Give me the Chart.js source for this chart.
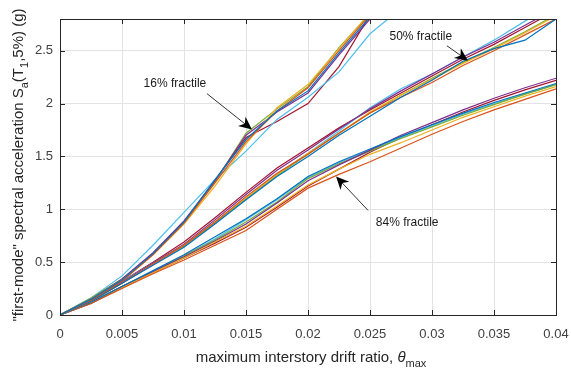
<!DOCTYPE html>
<html>
<head>
<meta charset="utf-8">
<script src="https://cdn.jsdelivr.net/npm/chart.js@4/dist/chart.umd.min.js"></script>
<style>
html, body { margin: 0; padding: 0; background: #fff; }
#wrap { width: 571px; height: 374px; }
</style>
</head>
<body>
<div id="wrap"><canvas id="chart"></canvas></div>
<script>
// drift ratio grid shared by every curve
const drift = [0, 0.0025, 0.005, 0.0075, 0.01, 0.0125, 0.015, 0.0175, 0.02, 0.0225, 0.025, 0.0275, 0.03, 0.0325, 0.035, 0.0375, 0.04];

// 16% fractile curves (blue, orange, yellow, purple, green, cyan, red)
const sa16 = [
  [0, .15, .33, .58, .88, 1.28, 1.66, 1.93, 2.12, 2.48, 2.82, 3.1],
  [0, .14, .32, .57, .87, 1.25, 1.64, 1.93, 2.15, 2.50, 2.84, 3.1],
  [0, .15, .33, .57, .86, 1.22, 1.62, 1.96, 2.18, 2.52, 2.86, 3.1],
  [0, .15, .34, .59, .89, 1.27, 1.70, 1.92, 2.10, 2.46, 2.80, 3.1],
  [0, .16, .34, .58, .87, 1.26, 1.72, 1.95, 2.16, 2.53, 2.85, 3.1],
  [0, .16, .37, .66, .97, 1.28, 1.55, 1.85, 2.06, 2.30, 2.66, 2.90],
  [0, .15, .33, .58, .88, 1.27, 1.68, 1.83, 2.00, 2.35, 2.84, 3.1]
];

// 50% fractile curves
const sa50 = [
  [0, .13, .30, .47, .64, .86, 1.09, 1.31, 1.50, 1.70, 1.88, 2.06, 2.22, 2.40, 2.52, 2.60, 2.80],
  [0, .13, .30, .48, .66, .88, 1.12, 1.34, 1.52, 1.72, 1.91, 2.06, 2.20, 2.36, 2.50, 2.65, 2.80],
  [0, .13, .30, .48, .66, .88, 1.11, 1.33, 1.53, 1.72, 1.92, 2.08, 2.23, 2.38, 2.52, 2.67, 2.83],
  [0, .14, .31, .49, .67, .90, 1.14, 1.37, 1.56, 1.76, 1.95, 2.12, 2.28, 2.44, 2.58, 2.74, 2.90],
  [0, .13, .31, .48, .65, .87, 1.10, 1.32, 1.52, 1.72, 1.91, 2.08, 2.24, 2.39, 2.53, 2.68, 2.84],
  [0, .14, .32, .49, .66, .88, 1.10, 1.33, 1.53, 1.74, 1.96, 2.14, 2.28, 2.44, 2.60, 2.78, 2.95],
  [0, .14, .32, .50, .69, .92, 1.16, 1.39, 1.58, 1.77, 1.94, 2.10, 2.26, 2.42, 2.56, 2.72, 2.88]
];

// 84% fractile curves
const sa84 = [
  [0, .12, .27, .42, .57, .74, .91, 1.10, 1.31, 1.45, 1.57, 1.69, 1.80, 1.91, 2.01, 2.10, 2.19],
  [0, .11, .25, .39, .52, .66, .80, 1.00, 1.20, 1.33, 1.45, 1.58, 1.71, 1.83, 1.94, 2.04, 2.14],
  [0, .12, .26, .40, .54, .69, .84, 1.03, 1.23, 1.38, 1.52, 1.63, 1.75, 1.87, 1.97, 2.07, 2.16],
  [0, .12, .27, .41, .55, .70, .86, 1.06, 1.27, 1.42, 1.56, 1.70, 1.82, 1.94, 2.05, 2.15, 2.24],
  [0, .12, .27, .41, .56, .71, .88, 1.07, 1.29, 1.43, 1.55, 1.67, 1.78, 1.89, 1.99, 2.09, 2.18],
  [0, .12, .27, .41, .56, .72, .90, 1.09, 1.30, 1.44, 1.56, 1.68, 1.79, 1.90, 2.00, 2.09, 2.18],
  [0, .11, .26, .40, .54, .68, .83, 1.02, 1.22, 1.38, 1.54, 1.68, 1.80, 1.92, 2.03, 2.13, 2.22]
];

const xTicks = [0, 0.005, 0.01, 0.015, 0.02, 0.025, 0.03, 0.035, 0.04];
const yTicks = [0, 0.5, 1, 1.5, 2, 2.5];

const lineColors = ['#0072BD', '#D95319', '#EDB120', '#7E2F8E', '#77AC30', '#4DBEEE', '#A2142F'];

// text arrows: label position, arrow tail, arrow head (data units)
const notes = [
  { text: '16% fractile', tx: 0.00927, ty: 2.19, x0: 0.01185, y0: 2.094, x1: 0.01548, y1: 1.755 },
  { text: '50% fractile', tx: 0.0291, ty: 2.63, x0: 0.0312, y0: 2.547, x1: 0.0329, y1: 2.406 },
  { text: '84% fractile', tx: 0.0280, ty: 0.877, x0: 0.02484, y0: 0.99, x1: 0.02226, y1: 1.311 }
];

const FONT = '"Liberation Sans", Arial, sans-serif';

function makeSets(group) {
  return group.map((vals, i) => ({
    data: vals.map((v, k) => ({ x: drift[k], y: v })),
    borderColor: lineColors[i],
    borderWidth: 1.2,
    pointRadius: 0,
    tension: 0,
    fill: false
  }));
}

function richWidth(ctx, parts, size) {
  let w = 0;
  parts.forEach(p => {
    ctx.font = (p.it ? 'italic ' : '') + (p.sub ? size - 4 : size) + 'px ' + FONT;
    w += ctx.measureText(p.t).width;
  });
  return w;
}
function drawRich(ctx, parts, size, x, y) {
  let cx = x;
  parts.forEach(p => {
    ctx.font = (p.it ? 'italic ' : '') + (p.sub ? size - 4 : size) + 'px ' + FONT;
    ctx.fillText(p.t, cx, p.sub ? y + 5 : y);
    cx += ctx.measureText(p.t).width;
  });
}

const frame = {
  id: 'frame',
  afterDraw(chart) {
    const { ctx, chartArea: a, scales: { x, y } } = chart;
    ctx.save();
    ctx.strokeStyle = '#262626';
    ctx.lineWidth = 1;
    ctx.strokeRect(Math.round(a.left) + 0.5, Math.round(a.top) + 0.5, Math.round(a.right - a.left), Math.round(a.bottom - a.top));
    ctx.beginPath();
    xTicks.forEach(v => {
      const px = Math.round(x.getPixelForValue(v)) + 0.5;
      ctx.moveTo(px, a.bottom); ctx.lineTo(px, a.bottom - 5);
      ctx.moveTo(px, a.top); ctx.lineTo(px, a.top + 5);
    });
    yTicks.forEach(v => {
      const py = Math.round(y.getPixelForValue(v)) + 0.5;
      ctx.moveTo(a.left, py); ctx.lineTo(a.left + 5, py);
      ctx.moveTo(a.right, py); ctx.lineTo(a.right - 5, py);
    });
    ctx.stroke();

    // annotations
    ctx.font = '12px ' + FONT;
    ctx.textAlign = 'center';
    ctx.textBaseline = 'middle';
    notes.forEach(n => {
      ctx.fillStyle = '#1a1a1a';
      ctx.fillText(n.text, x.getPixelForValue(n.tx), y.getPixelForValue(n.ty));
      const sx = x.getPixelForValue(n.x0), sy = y.getPixelForValue(n.y0);
      const ex = x.getPixelForValue(n.x1), ey = y.getPixelForValue(n.y1);
      const ang = Math.atan2(ey - sy, ex - sx);
      const len = 13, hw = 6;
      ctx.strokeStyle = '#333';
      ctx.lineWidth = 1;
      ctx.beginPath();
      ctx.moveTo(sx, sy);
      ctx.lineTo(ex - Math.cos(ang) * len * 0.6, ey - Math.sin(ang) * len * 0.6);
      ctx.stroke();
      const bx = ex - Math.cos(ang) * len, by = ey - Math.sin(ang) * len;
      const nx = -Math.sin(ang), ny = Math.cos(ang);
      ctx.fillStyle = '#000';
      ctx.beginPath();
      ctx.moveTo(ex, ey);
      ctx.lineTo(bx + nx * hw, by + ny * hw);
      ctx.lineTo(ex - Math.cos(ang) * len * 0.7, ey - Math.sin(ang) * len * 0.7);
      ctx.lineTo(bx - nx * hw, by - ny * hw);
      ctx.closePath();
      ctx.fill();
    });

    // axis titles with subscripts
    ctx.fillStyle = '#262626';
    ctx.textAlign = 'left';
    ctx.textBaseline = 'alphabetic';
    const xParts = [{ t: 'maximum interstory drift ratio, ' }, { t: '\u03b8', it: true }, { t: 'max', sub: true }];
    const xw = richWidth(ctx, xParts, 15);
    drawRich(ctx, xParts, 15, 311 - xw / 2, 362);

    const yParts = [{ t: '"first-mode" spectral acceleration S' }, { t: 'a', sub: true }, { t: '(T' }, { t: '1', sub: true }, { t: ',5%) (g)' }];
    const yw = richWidth(ctx, yParts, 15);
    ctx.translate(23, 165);
    ctx.rotate(-Math.PI / 2);
    drawRich(ctx, yParts, 15, -yw / 2, 0);
    ctx.restore();
  }
};

new Chart(document.getElementById('chart'), {
  type: 'line',
  data: { datasets: [...makeSets(sa16), ...makeSets(sa50), ...makeSets(sa84)] },
  plugins: [frame],
  options: {
    responsive: true,
    maintainAspectRatio: false,
    animation: false,
    layout: { padding: { top: 19, right: 15, left: 0, bottom: 0 } },
    plugins: { legend: { display: false }, tooltip: { enabled: false } },
    scales: {
      x: {
        type: 'linear', min: 0, max: 0.04,
        afterFit: s => { s.height = 59; s.paddingLeft = 0; s.paddingRight = 0; },
        afterBuildTicks: s => { s.ticks = xTicks.map(v => ({ value: v })); },
        grid: { color: '#e3e3e3', drawTicks: false },
        border: { display: false },
        ticks: {
          padding: 12, color: '#404040', font: { family: FONT, size: 13 },
          maxRotation: 0, autoSkip: false,
          callback: v => String(+v.toFixed(3))
        }
      },
      y: {
        type: 'linear', min: 0, max: 2.8,
        afterFit: s => { s.width = 60; s.paddingTop = 0; s.paddingBottom = 0; },
        afterBuildTicks: s => { s.ticks = yTicks.map(v => ({ value: v })); },
        grid: { color: '#e3e3e3', drawTicks: false },
        border: { display: false },
        ticks: {
          padding: 7, color: '#404040', font: { family: FONT, size: 13 },
          callback: v => String(v)
        }
      }
    }
  }
});
</script>
</body>
</html>
